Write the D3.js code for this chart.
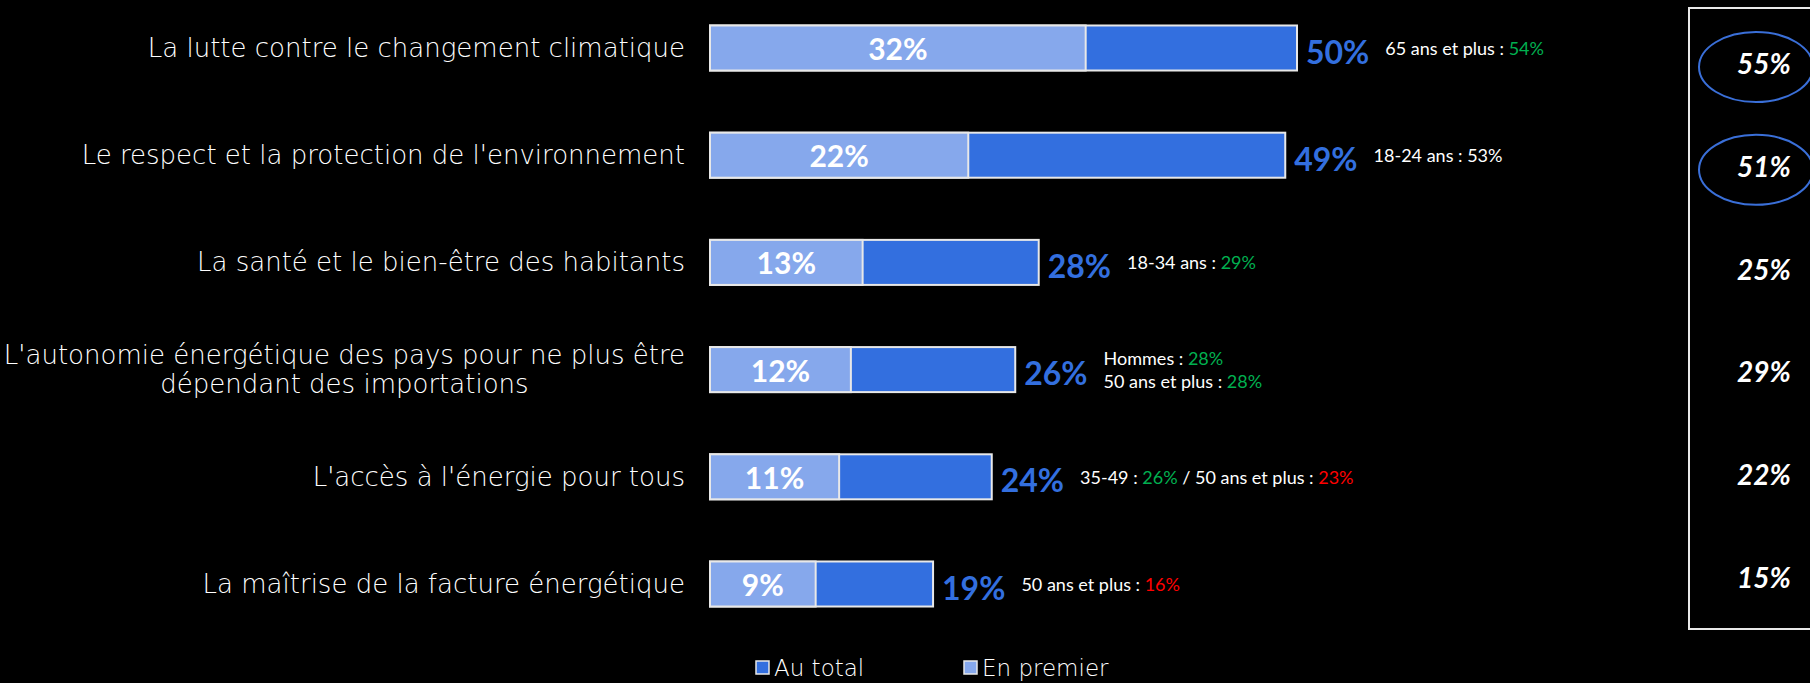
<!DOCTYPE html>
<html>
<head>
<meta charset="utf-8">
<script src="https://cdn.jsdelivr.net/npm/d3@7"></script>
<style>
  html, body { margin: 0; padding: 0; background: #000; }
  svg { display: block; }
</style>
</head>
<body>
<div id="chart"></div>
<script>
// data
const categories = [
  "La lutte contre le changement climatique",
  "Le respect et la protection de l'environnement",
  "La santé et le bien-être des habitants",
  "L'autonomie énergétique des pays pour ne plus être|dépendant des importations",
  "L'accès à l'énergie pour tous",
  "La maîtrise de la facture énergétique"
];
const enPremier = [32, 22, 13, 12, 11, 9];
const auTotal = [50, 49, 28, 26, 24, 19];
const previous = [55, 51, 25, 29, 22, 15];
const circled = [true, true, false, false, false, false];
// each note: list of lines, each line a list of [text, tone]
const notes = [
  [[["65 ans et plus : ", "w"], ["54%", "g"]]],
  [[["18-24 ans : 53%", "w"]]],
  [[["18-34 ans : ", "w"], ["29%", "g"]]],
  [[["Hommes : ", "w"], ["28%", "g"]], [["50 ans et plus : ", "w"], ["28%", "g"]]],
  [[["35-49 : ", "w"], ["26%", "g"], [" / 50 ans et plus : ", "w"], ["23%", "r"]]],
  [[["50 ans et plus : ", "w"], ["16%", "r"]]]
];
const legendLabels = ["Au total", "En premier"];

const W = 1810, H = 683;
const colTotal = "#336fdf", colFirst = "#86a8ec";
const tones = { w: "#ffffff", g: "#00b050", r: "#ff0000" };
const font = "Lato, 'Noto Sans', sans-serif";
const thin = "'DejaVu Sans', sans-serif";

const svg = d3.select("#chart").append("svg")
  .attr("width", W).attr("height", H)
  .style("background", "#000");

const x = d3.scaleLinear().domain([0, 50]).range([710, 1297]);
const y = d3.scaleBand().domain(categories).range([-5.6, 637.6])
  .paddingInner(0.58).paddingOuter(0.29);
const yBox = d3.scalePoint().domain(categories).range([63, 577]);

const rows = categories.map((c, i) => ({
  cat: c, first: enPremier[i], total: auTotal[i],
  prev: previous[i], circ: circled[i], note: notes[i]
}));

// category labels
const labelRight = 685;
rows.forEach(d => {
  const lines = d.cat.split("|");
  const cy = y(d.cat) + y.bandwidth() / 2;
  const lh = 29;
  const t = svg.append("text")
    .attr("fill", "#fff")
    .attr("font-family", thin)
    .attr("font-weight", 200)
    .attr("font-size", 26)
    .attr("dominant-baseline", "central");
  lines.forEach((l, k) => {
    t.append("tspan")
      .attr("y", cy + (k - (lines.length - 1) / 2) * lh)
      .text(l);
  });
  if (lines.length === 1) {
    t.attr("text-anchor", "end").selectAll("tspan").attr("x", labelRight);
  } else {
    const wmax = d3.max(t.selectAll("tspan").nodes(), n => n.getComputedTextLength());
    t.attr("text-anchor", "middle").selectAll("tspan").attr("x", labelRight - wmax / 2);
  }
});

// bars
const g = svg.append("g");
g.selectAll("rect.total").data(rows).join("rect")
  .attr("class", "total")
  .attr("x", x(0)).attr("y", d => y(d.cat))
  .attr("width", d => x(d.total) - x(0))
  .attr("height", y.bandwidth())
  .attr("fill", colTotal)
  .attr("stroke", "#e8e8e8").attr("stroke-width", 2);

g.selectAll("rect.first").data(rows).join("rect")
  .attr("class", "first")
  .attr("x", x(0)).attr("y", d => y(d.cat))
  .attr("width", d => x(d.first) - x(0))
  .attr("height", y.bandwidth())
  .attr("fill", colFirst)
  .attr("stroke", "#e8e8e8").attr("stroke-width", 2);

g.selectAll("text.first").data(rows).join("text")
  .attr("class", "first")
  .attr("x", d => (x(0) + x(d.first)) / 2)
  .attr("y", d => y(d.cat) + y.bandwidth() / 2)
  .attr("text-anchor", "middle").attr("dominant-baseline", "central")
  .attr("fill", "#fff").attr("font-family", font)
  .attr("font-weight", "bold").attr("font-size", 30)
  .text(d => d.first + "%");

const totals = g.selectAll("text.total").data(rows).join("text")
  .attr("class", "total")
  .attr("x", d => x(d.total) + 9)
  .attr("y", d => y(d.cat) + y.bandwidth() / 2 + 3)
  .attr("dominant-baseline", "central")
  .attr("fill", colTotal).attr("font-family", font)
  .attr("font-weight", "bold").attr("font-size", 32)
  .text(d => d.total + "%");

// side notes
totals.each(function (d) {
  const x0 = x(d.total) + 9 + this.getComputedTextLength() + 16;
  const cy = y(d.cat) + y.bandwidth() / 2;
  const lh = 23;
  d.note.forEach((line, k) => {
    const t = svg.append("text")
      .attr("x", x0)
      .attr("y", cy + (k - (d.note.length - 1) / 2) * lh)
      .attr("dominant-baseline", "central")
      .attr("font-family", font)
      .attr("font-size", 18);
    line.forEach(s => t.append("tspan").attr("fill", tones[s[1]]).text(s[0]));
  });
});

// comparison box on the right
svg.append("rect")
  .attr("x", 1689).attr("y", 8)
  .attr("width", 140).attr("height", 621)
  .attr("fill", "none").attr("stroke", "#e8e8e8").attr("stroke-width", 2);

svg.selectAll("ellipse.circ").data(rows.filter(d => d.circ)).join("ellipse")
  .attr("class", "circ")
  .attr("cx", 1756).attr("cy", d => yBox(d.cat) + 4)
  .attr("rx", 57).attr("ry", 35)
  .attr("fill", "none").attr("stroke", "#3a6fd8").attr("stroke-width", 2);

svg.selectAll("text.prev").data(rows).join("text")
  .attr("class", "prev")
  .attr("x", 1764).attr("y", d => yBox(d.cat))
  .attr("text-anchor", "middle").attr("dominant-baseline", "central")
  .attr("fill", "#fff").attr("font-family", font)
  .attr("font-weight", "bold").attr("font-style", "italic")
  .attr("font-size", 28)
  .text(d => d.prev + "%");

// legend
const legendX = [756, 964];
const legendCol = [colTotal, colFirst];
const lg = svg.selectAll("g.legend").data(legendLabels).join("g")
  .attr("class", "legend")
  .attr("transform", (d, i) => `translate(${legendX[i]},${667})`);
lg.append("rect")
  .attr("x", 0).attr("y", -6).attr("width", 13).attr("height", 13)
  .attr("fill", (d, i) => legendCol[i])
  .attr("stroke", "#e8e8e8").attr("stroke-width", 1.5);
lg.append("text")
  .attr("x", 18).attr("y", 1)
  .attr("dominant-baseline", "central")
  .attr("fill", "#fff").attr("font-family", thin).attr("font-weight", 200)
  .attr("font-size", 23)
  .text(d => d);
</script>
</body>
</html>
